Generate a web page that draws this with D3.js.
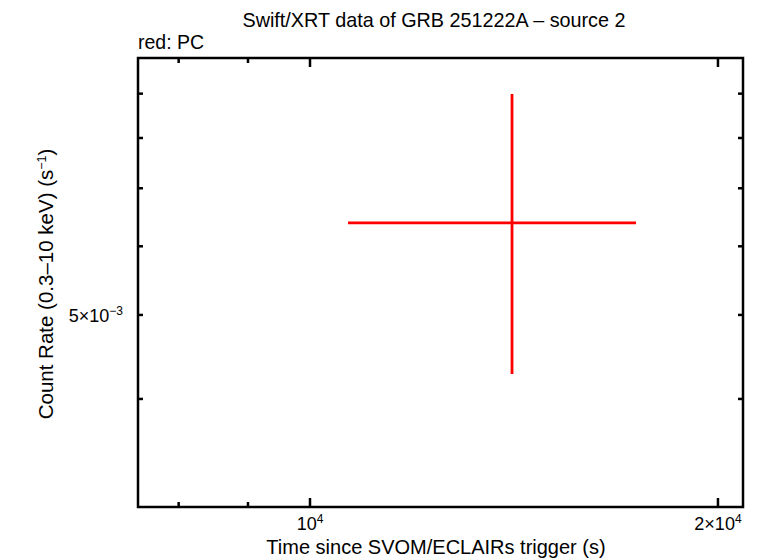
<!DOCTYPE html>
<head>
    <meta charset="utf-8">
    <title>Swift/XRT light curve</title>
    <script type="text/javascript" src="https://d3js.org/d3.v7.min.js"></script>
    <style>
        body { margin: 0; background: #fff; }
        text { font-family: "Liberation Sans", Arial, sans-serif; fill: #000; }
    </style>
</head>
<body>
<div id="container"></div>
<script>
    //---------------------------DATA--------------------------------//
    const timeMid = [14095];
    const timeLo = [10667];
    const timeHi = [17401];
    const rate = [0.006385];
    const rateLo = [0.004274];
    const rateHi = [0.008992];

    const xDomain = [7466, 20869];
    const yDomain = [0.003002, 0.009894];
    const xMajorTicks = [10000, 20000];
    const xMajorLabels = [["10", "4"], ["2\u00d710", "4"]];
    const xMinorTicks = [8000, 9000];
    const yMinorTicks = [0.004, 0.005, 0.006, 0.007, 0.008, 0.009];
    const yLabelTicks = [0.005];
    const yTickLabels = [["5\u00d710", "\u22123"]];

    //---------------------------SVG---------------------------------//
    const width = 759;
    const height = 558;
    const pLeft = 138, pRight = 743, pTop = 58, pBottom = 507;

    const svg = d3.select("div#container").append("svg")
        .attr("width", width)
        .attr("height", height);

    const x = d3.scaleLog().domain(xDomain).range([pLeft, pRight]);
    const y = d3.scaleLog().domain(yDomain).range([pBottom, pTop]);

    //---------------------------TEXT--------------------------------//
    svg.append("text")
        .attr("x", 434).attr("y", 27)
        .attr("text-anchor", "middle")
        .style("font-size", "19.8px")
        .text("Swift/XRT data of GRB 251222A \u2013 source 2");

    svg.append("text")
        .attr("x", 138).attr("y", 49)
        .style("font-size", "19.5px")
        .text("red: PC");

    svg.append("text")
        .attr("x", 436).attr("y", 554)
        .attr("text-anchor", "middle")
        .style("font-size", "20px")
        .text("Time since SVOM/ECLAIRs trigger (s)");

    const ylab = svg.append("text")
        .attr("transform", "translate(53,284) rotate(-90)")
        .attr("text-anchor", "middle")
        .style("font-size", "20.5px");
    ylab.append("tspan").text("Count Rate (0.3\u201310 keV) (s");
    ylab.append("tspan").attr("dy", -7).style("font-size", "12.5px").text("\u22121");
    ylab.append("tspan").attr("dy", 7).text(")");

    //---------------------------TICKS-------------------------------//
    const tickG = svg.append("g").attr("stroke", "#000").attr("stroke-width", 2.5);

    xMajorTicks.forEach(function(t) {
        tickG.append("line").attr("x1", x(t)).attr("x2", x(t)).attr("y1", pBottom).attr("y2", pBottom - 9);
        tickG.append("line").attr("x1", x(t)).attr("x2", x(t)).attr("y1", pTop).attr("y2", pTop + 9);
    });
    xMinorTicks.forEach(function(t) {
        tickG.append("line").attr("x1", x(t)).attr("x2", x(t)).attr("y1", pBottom).attr("y2", pBottom - 5);
        tickG.append("line").attr("x1", x(t)).attr("x2", x(t)).attr("y1", pTop).attr("y2", pTop + 5);
    });
    yMinorTicks.forEach(function(t) {
        tickG.append("line").attr("x1", pLeft).attr("x2", pLeft + 5).attr("y1", y(t)).attr("y2", y(t));
        tickG.append("line").attr("x1", pRight).attr("x2", pRight - 5).attr("y1", y(t)).attr("y2", y(t));
    });

    xMajorTicks.forEach(function(t, i) {
        const lab = svg.append("text")
            .attr("x", x(t)).attr("y", 530)
            .attr("text-anchor", "middle")
            .style("font-size", "18px");
        lab.append("tspan").text(xMajorLabels[i][0]);
        lab.append("tspan").attr("dy", -7).style("font-size", "12px").text(xMajorLabels[i][1]);
    });

    yLabelTicks.forEach(function(t, i) {
        const lab = svg.append("text")
            .attr("x", 123).attr("y", y(t) + 7)
            .attr("text-anchor", "end")
            .style("font-size", "18px");
        lab.append("tspan").text(yTickLabels[i][0]);
        lab.append("tspan").attr("dy", -7).style("font-size", "12px").text(yTickLabels[i][1]);
    });

    //---------------------------DATA MARKS--------------------------//
    const pts = timeMid.map(function(d, i) {
        return { t: d, lo: timeLo[i], hi: timeHi[i], r: rate[i], rlo: rateLo[i], rhi: rateHi[i] };
    });

    const marks = svg.selectAll("g.pt").data(pts).enter().append("g")
        .attr("stroke", "#ff0000").attr("stroke-width", 2.8);
    marks.append("line")
        .attr("x1", function(d) { return x(d.lo); })
        .attr("x2", function(d) { return x(d.hi); })
        .attr("y1", function(d) { return y(d.r); })
        .attr("y2", function(d) { return y(d.r); });
    marks.append("line")
        .attr("x1", function(d) { return x(d.t); })
        .attr("x2", function(d) { return x(d.t); })
        .attr("y1", function(d) { return y(d.rlo); })
        .attr("y2", function(d) { return y(d.rhi); });

    //---------------------------FRAME-------------------------------//
    svg.append("rect")
        .attr("x", pLeft).attr("y", pTop)
        .attr("width", pRight - pLeft).attr("height", pBottom - pTop)
        .attr("fill", "none").attr("stroke", "#000").attr("stroke-width", 2.5);
</script>
</body>
